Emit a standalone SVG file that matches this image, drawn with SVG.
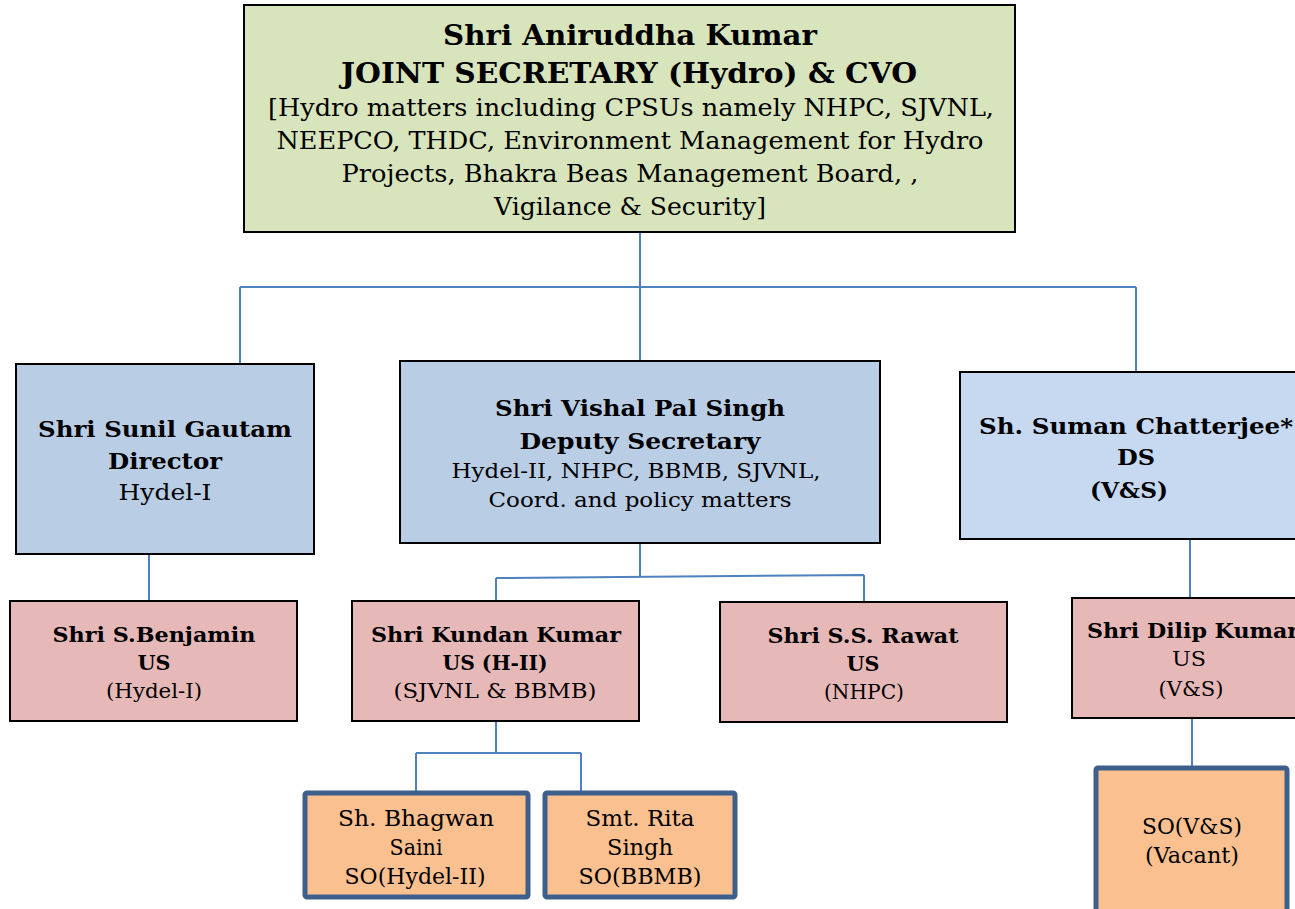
<svg xmlns="http://www.w3.org/2000/svg" width="1295" height="909" viewBox="0 0 1295 909">
<style>
.box{stroke:#000;stroke-width:2}
.js{fill:#d8e4bc}
.ds{fill:#b9cde5}
.ds2{fill:#c6d9f1}
.us{fill:#e6b9b8}
.so{fill:#fac090;stroke:#3c5f8c;stroke-width:5}
.c{stroke:#4f81bd;stroke-width:2;fill:none}
text{font-family:"DejaVu Serif","Liberation Serif",serif;fill:#000;text-anchor:middle}
.b{font-weight:bold}
</style>
<rect width="1295" height="909" fill="#fff"/>
<g id="connectors">
<path class="c" d="M640 232V362M240 287H1136M240 287V364M1136 287V372"/>
<path class="c" d="M149 554V601"/>
<path class="c" d="M640 543V577M496 578L864 575M496 578V601M864 575V602"/>
<path class="c" d="M1190 539V598"/>
<path class="c" d="M1192 712V766"/>
<path class="c" d="M496 721V753M416 753H581M416 753V791M581 753V791"/>
</g>
<g id="js">
<rect class="box js" x="244" y="5" width="771" height="227"/>
<text class="b" x="630" y="45" font-size="28" textLength="374" lengthAdjust="spacingAndGlyphs">Shri Aniruddha Kumar</text>
<text class="b" x="629" y="83" font-size="28" textLength="576" lengthAdjust="spacingAndGlyphs">JOINT SECRETARY (Hydro) &amp; CVO</text>
<text x="631" y="116" font-size="24" textLength="726" lengthAdjust="spacingAndGlyphs">[Hydro matters including CPSUs namely NHPC, SJVNL,</text>
<text x="630" y="149" font-size="24" textLength="707" lengthAdjust="spacingAndGlyphs">NEEPCO, THDC, Environment Management for Hydro</text>
<text x="630" y="182" font-size="24" textLength="577" lengthAdjust="spacingAndGlyphs">Projects, Bhakra Beas Management Board, ,</text>
<text x="630" y="215" font-size="24" textLength="272" lengthAdjust="spacingAndGlyphs">Vigilance &amp; Security]</text>
</g>
<g id="sunil">
<rect class="box ds" x="16" y="364" width="298" height="190"/>
<text class="b" x="165" y="437" font-size="23" textLength="254" lengthAdjust="spacingAndGlyphs">Shri Sunil Gautam</text>
<text class="b" x="165" y="469" font-size="23" textLength="114" lengthAdjust="spacingAndGlyphs">Director</text>
<text x="165" y="500" font-size="23" textLength="93" lengthAdjust="spacingAndGlyphs">Hydel-I</text>
</g>
<g id="vishal">
<rect class="box ds" x="400" y="361" width="480" height="182"/>
<text class="b" x="640" y="416" font-size="23" textLength="290" lengthAdjust="spacingAndGlyphs">Shri Vishal Pal Singh</text>
<text class="b" x="640" y="449" font-size="23" textLength="241" lengthAdjust="spacingAndGlyphs">Deputy Secretary</text>
<text x="636" y="478" font-size="21" textLength="369" lengthAdjust="spacingAndGlyphs">Hydel-II, NHPC, BBMB, SJVNL,</text>
<text x="640" y="507" font-size="21" textLength="303" lengthAdjust="spacingAndGlyphs">Coord. and policy matters</text>
</g>
<g id="suman">
<rect class="box ds2" x="960" y="372" width="345" height="167"/>
<text class="b" x="1136" y="434" font-size="23" textLength="314" lengthAdjust="spacingAndGlyphs">Sh. Suman Chatterjee*</text>
<text class="b" x="1136" y="465" font-size="23" textLength="38" lengthAdjust="spacingAndGlyphs">DS</text>
<text class="b" x="1129" y="498" font-size="23" textLength="78" lengthAdjust="spacingAndGlyphs">(V&amp;S)</text>
</g>
<g id="benjamin">
<rect class="box us" x="10" y="601" width="287" height="120"/>
<text class="b" x="154" y="642" font-size="21" textLength="203" lengthAdjust="spacingAndGlyphs">Shri S.Benjamin</text>
<text class="b" x="154" y="670" font-size="21" textLength="33" lengthAdjust="spacingAndGlyphs">US</text>
<text x="154" y="698" font-size="21" textLength="96" lengthAdjust="spacingAndGlyphs">(Hydel-I)</text>
</g>
<g id="kundan">
<rect class="box us" x="352" y="601" width="287" height="120"/>
<text class="b" x="496" y="642" font-size="21" textLength="250" lengthAdjust="spacingAndGlyphs">Shri Kundan Kumar</text>
<text class="b" x="495" y="670" font-size="21" textLength="105" lengthAdjust="spacingAndGlyphs">US (H-II)</text>
<text x="495" y="698" font-size="21" textLength="203" lengthAdjust="spacingAndGlyphs">(SJVNL &amp; BBMB)</text>
</g>
<g id="rawat">
<rect class="box us" x="720" y="602" width="287" height="120"/>
<text class="b" x="863" y="643" font-size="21" textLength="191" lengthAdjust="spacingAndGlyphs">Shri S.S. Rawat</text>
<text class="b" x="863" y="671" font-size="21" textLength="33" lengthAdjust="spacingAndGlyphs">US</text>
<text x="864" y="699" font-size="21" textLength="80" lengthAdjust="spacingAndGlyphs">(NHPC)</text>
</g>
<g id="dilip">
<rect class="box us" x="1072" y="598" width="240" height="120"/>
<text class="b" x="1193" y="638" font-size="21" textLength="212" lengthAdjust="spacingAndGlyphs">Shri Dilip Kumar</text>
<text x="1189" y="666" font-size="21" textLength="34" lengthAdjust="spacingAndGlyphs">US</text>
<text x="1191" y="696" font-size="21" textLength="65" lengthAdjust="spacingAndGlyphs">(V&amp;S)</text>
</g>
<g id="bhagwan">
<rect class="so" x="305" y="793" width="223" height="104" rx="2"/>
<text x="416" y="826" font-size="22" textLength="156" lengthAdjust="spacingAndGlyphs">Sh. Bhagwan</text>
<text x="416" y="855" font-size="22" textLength="53" lengthAdjust="spacingAndGlyphs">Saini</text>
<text x="415" y="884" font-size="22" textLength="141" lengthAdjust="spacingAndGlyphs">SO(Hydel-II)</text>
</g>
<g id="rita">
<rect class="so" x="545" y="793" width="190" height="104" rx="2"/>
<text x="640" y="826" font-size="22" textLength="109" lengthAdjust="spacingAndGlyphs">Smt. Rita</text>
<text x="640" y="855" font-size="22" textLength="66" lengthAdjust="spacingAndGlyphs">Singh</text>
<text x="640" y="884" font-size="22" textLength="123" lengthAdjust="spacingAndGlyphs">SO(BBMB)</text>
</g>
<g id="so-vs">
<rect class="so" x="1096" y="768" width="191" height="160" rx="2"/>
<text x="1192" y="834" font-size="22" textLength="100" lengthAdjust="spacingAndGlyphs">SO(V&amp;S)</text>
<text x="1192" y="863" font-size="22" textLength="94" lengthAdjust="spacingAndGlyphs">(Vacant)</text>
</g>
</svg>
